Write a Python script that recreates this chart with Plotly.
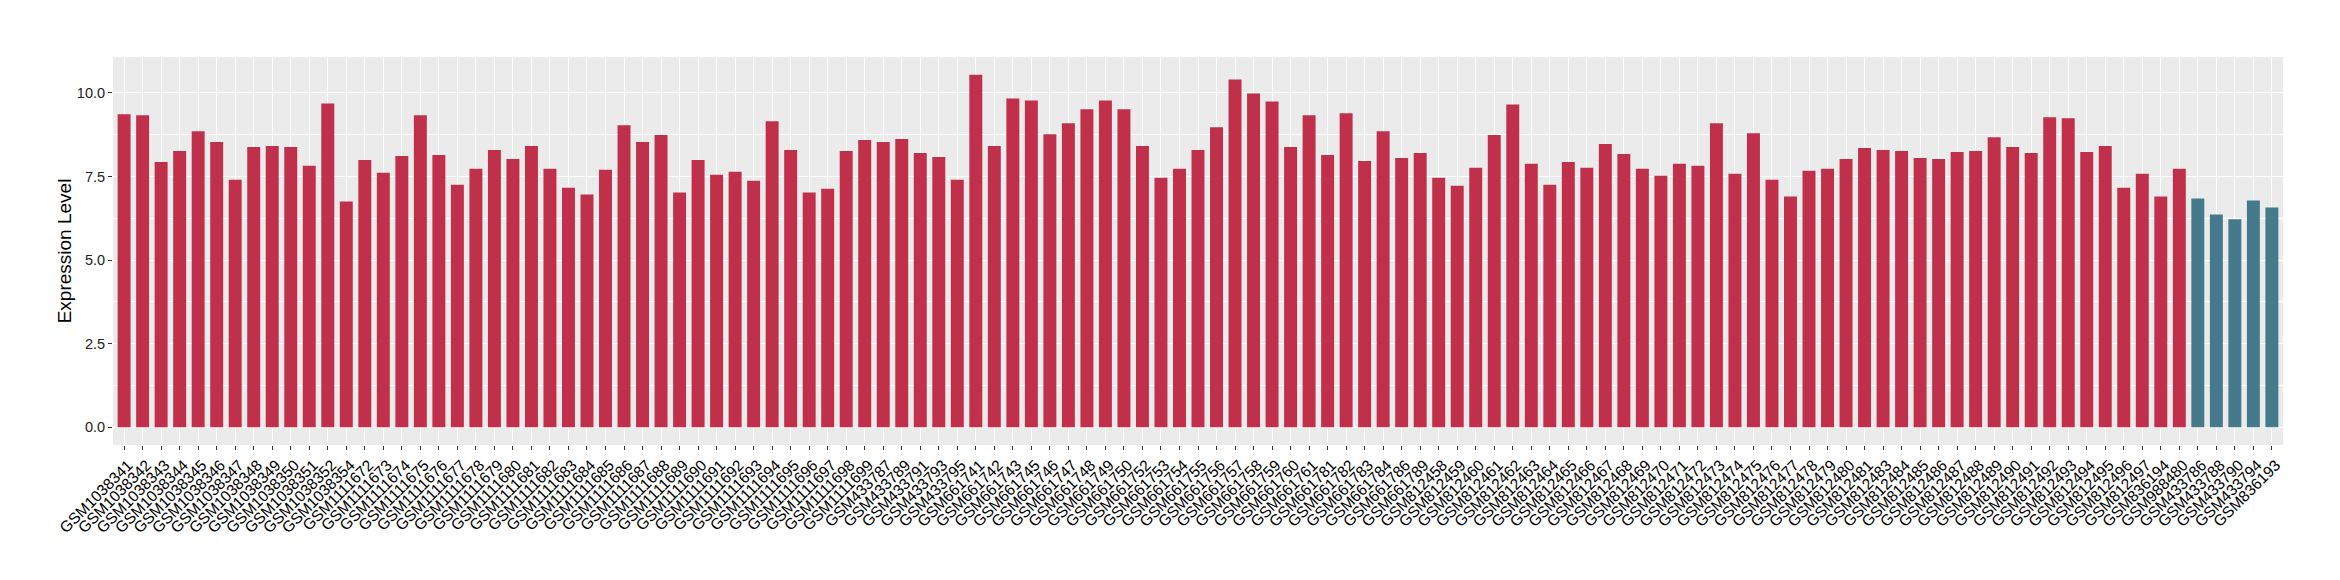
import plotly.graph_objects as go

# sample ids, left to right
samples = [
    "GSM1038341", "GSM1038342", "GSM1038343", "GSM1038344", "GSM1038345", "GSM1038346",
    "GSM1038347", "GSM1038348", "GSM1038349", "GSM1038350", "GSM1038351", "GSM1038352",
    "GSM1038354",
    "GSM1111672", "GSM1111673", "GSM1111674", "GSM1111675", "GSM1111676", "GSM1111677",
    "GSM1111678", "GSM1111679", "GSM1111680", "GSM1111681", "GSM1111682", "GSM1111683",
    "GSM1111684", "GSM1111685", "GSM1111686", "GSM1111687", "GSM1111688", "GSM1111689",
    "GSM1111690", "GSM1111691", "GSM1111692", "GSM1111693", "GSM1111694", "GSM1111695",
    "GSM1111696", "GSM1111697", "GSM1111698", "GSM1111699",
    "GSM433787", "GSM433789", "GSM433791", "GSM433793", "GSM433795",
    "GSM661741", "GSM661742", "GSM661743", "GSM661745", "GSM661746", "GSM661747",
    "GSM661748", "GSM661749", "GSM661750", "GSM661752", "GSM661753", "GSM661754",
    "GSM661755", "GSM661756", "GSM661757", "GSM661758", "GSM661759", "GSM661760",
    "GSM661761", "GSM661781", "GSM661782", "GSM661783", "GSM661784", "GSM661786",
    "GSM661789",
    "GSM812458", "GSM812459", "GSM812460", "GSM812461", "GSM812462", "GSM812463",
    "GSM812464", "GSM812465", "GSM812466", "GSM812467", "GSM812468", "GSM812469",
    "GSM812470", "GSM812471", "GSM812472", "GSM812473", "GSM812474", "GSM812475",
    "GSM812476", "GSM812477", "GSM812478", "GSM812479", "GSM812480", "GSM812481",
    "GSM812483", "GSM812484", "GSM812485", "GSM812486", "GSM812487", "GSM812488",
    "GSM812489", "GSM812490", "GSM812491", "GSM812492", "GSM812493", "GSM812494",
    "GSM812495", "GSM812496", "GSM812497",
    "GSM836194", "GSM988480",
    "GSM433786", "GSM433788", "GSM433790", "GSM433794", "GSM836193",
]

expression = [
    9.36, 9.33, 7.93, 8.26, 8.85, 8.53, 7.40, 8.38, 8.41, 8.38, 7.82, 9.68, 6.75,
    7.99, 7.61, 8.11, 9.33, 8.14, 7.25, 7.73, 8.29, 8.02, 8.41, 7.73, 7.16, 6.96,
    7.70, 9.03, 8.53, 8.74, 7.02, 7.99, 7.55, 7.64, 7.37, 9.15, 8.29, 7.02, 7.13,
    8.26, 8.59,
    8.53, 8.62, 8.20, 8.08, 7.40,
    10.54, 8.41, 9.83, 9.77, 8.76, 9.09, 9.51, 9.77, 9.51, 8.41, 7.46, 7.73, 8.29,
    8.97, 10.40, 9.98, 9.74, 8.38, 9.33,
    8.14, 9.39, 7.96, 8.85, 8.05, 8.20,
    7.46, 7.22, 7.76, 8.74, 9.65, 7.88, 7.25, 7.93, 7.76, 8.47, 8.17, 7.73, 7.52,
    7.88, 7.82, 9.09, 7.58, 8.79, 7.40, 6.90, 7.67, 7.73, 8.02, 8.35,
    8.29, 8.26, 8.05, 8.02, 8.23, 8.26, 8.67, 8.38, 8.20, 9.27, 9.24, 8.23, 8.41,
    7.16, 7.58,
    6.90, 7.73,
    6.84, 6.36, 6.22, 6.78, 6.57,
]

group = ["tumor"] * 112 + ["normal"] * 5

GROUP_COLORS = {"tumor": "#C1304A", "normal": "#447A8C"}
FONT = "Liberation Sans, Arial, Helvetica, sans-serif"

fig = go.Figure()
fig.add_trace(go.Bar(
    x=samples,
    y=expression,
    marker=dict(color=[GROUP_COLORS[g] for g in group], line=dict(width=0)),
    width=0.7,
    showlegend=False,
))

# page body has an 8px margin, so the figure is sized to fit inside the window
fig.update_layout(
    width=2324, height=564,
    margin=dict(l=105, r=49, t=49, b=127),
    paper_bgcolor="white",
    plot_bgcolor="#EBEBEB",
    font=dict(family=FONT, color="#222"),
    xaxis=dict(
        type="category",
        range=[-0.6, len(samples) - 0.4],
        tickmode="linear", dtick=1,
        tickangle=-45,
        ticklabelshift=4,
        tickfont=dict(size=15.5, color="black"),
        ticks="outside", ticklen=4, tickcolor="#333", tickwidth=1,
        showgrid=True, gridcolor="white", gridwidth=1.3,
        zeroline=False, showline=False,
    ),
    yaxis=dict(
        range=[-0.527, 11.07],
        tickvals=[0, 2.5, 5, 7.5, 10],
        tickformat=".1f",
        tickfont=dict(size=14.5, color="#222"),
        ticks="outside", ticklen=4, tickcolor="#333", tickwidth=1,
        showgrid=True, gridcolor="white", gridwidth=1.3,
        minor=dict(dtick=1.25, tick0=0, showgrid=True, gridcolor="white", gridwidth=0.6),
        zeroline=False, showline=False,
        title=dict(text="Expression Level", font=dict(size=19, color="black"), standoff=0),
    ),
)

fig.write_html("out.html")
